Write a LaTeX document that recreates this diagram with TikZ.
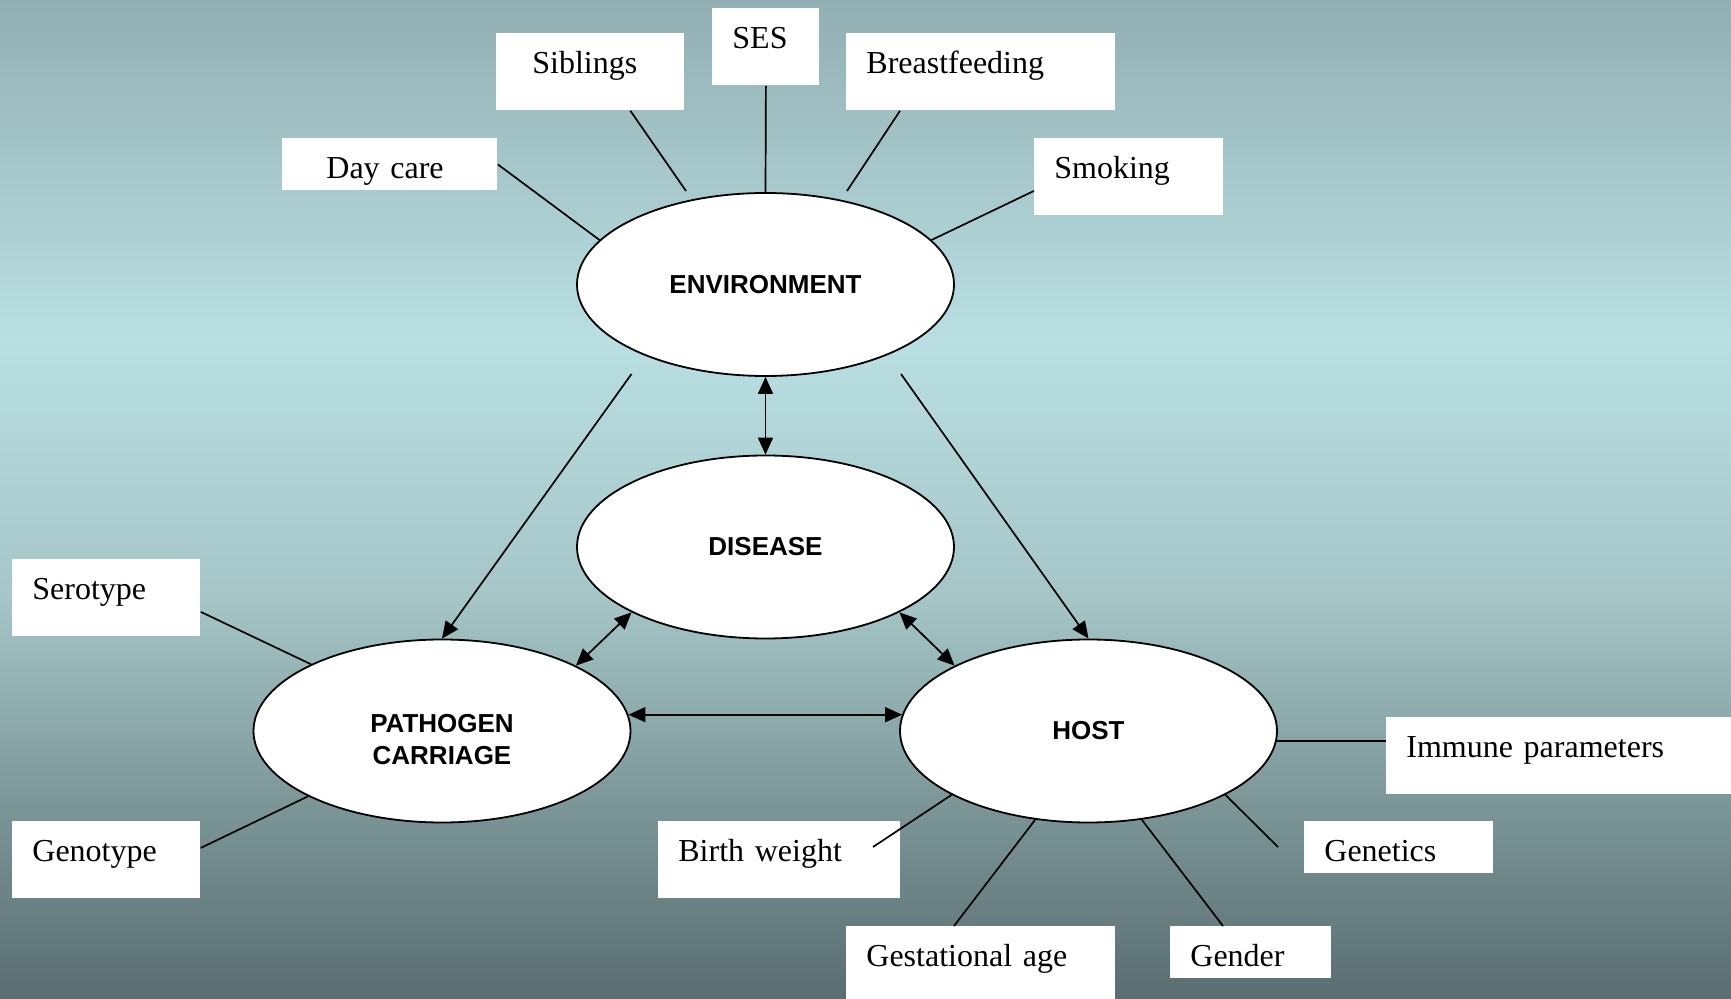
\documentclass[tikz,border=0pt]{standalone}
\usepackage{fontspec}
\setmainfont{Liberation Serif}
\newfontfamily\labelfont{Liberation Sans}
\usepackage{xcolor}
\usetikzlibrary{arrows.meta,shapes.geometric}

\definecolor{bgtop}{HTML}{92AFB3}
\definecolor{bglight}{HTML}{B9DFE2}
\definecolor{bgpale}{HTML}{A5C5C7}
\definecolor{bgmid}{HTML}{7D9799}
\definecolor{bgbot}{HTML}{5A6D70}
\pgfdeclareverticalshading{backdrop}{100bp}{color(0bp)=(bgbot); color(25bp)=(bgbot); color(35bp)=(bgmid); color(45bp)=(bgpale); color(58bp)=(bglight); color(75bp)=(bgtop); color(100bp)=(bgtop)}

\begin{document}
\begin{tikzpicture}[x=0.5pt, y=-0.5pt,
    factor/.style={fill=white, anchor=north west, inner xsep=10pt, inner ysep=0pt, align=left, text height=20pt, text depth=18.5pt, font=\fontsize{16}{19}\selectfont},
    short/.style={text depth=6pt},
    realm/.style={ellipse, draw, fill=white, line width=0.9pt, minimum width=188.5pt, minimum height=91.5pt, inner sep=0pt, align=center, font=\labelfont\bfseries\fontsize{13}{16}\selectfont},
    link/.style={line width=0.85pt},
    effect/.style={line width=0.85pt, -{Triangle[length=8.5pt,width=7.5pt]}},
    mutual/.style={line width=0.85pt, {Triangle[length=8.5pt,width=7.5pt]}-{Triangle[length=8.5pt,width=7.5pt]}}]
        \useasboundingbox (0,0) rectangle (1731,999);
        \shade[shading=backdrop] (0,0) rectangle (1731,999);

        % Draw the four ellipses
        \node[realm] (environment) at (765.5,284.5) {ENVIRONMENT};
        \node[realm] (disease) at (765.5,547) {DISEASE};
        \node[realm, text height=33.5pt, text depth=0pt] (pathogen) at (442,731) {PATHOGEN\\CARRIAGE};
        \node[realm] (host) at (1088.5,731) {HOST};

        % Draw the factor boxes
        \node[factor, text width=33.5pt] (ses) at (712,8) {SES};
        \node[factor, inner xsep=18pt, text width=58pt] (siblings) at (496,33) {Siblings};
        \node[factor, text width=114.5pt] (breast) at (846,33) {Breastfeeding};
        \node[factor, short, inner xsep=22pt, text width=63.5pt] (daycare) at (282,138) {Day care};
        \node[factor, text width=74.5pt] (smoking) at (1034,138) {Smoking};
        \node[factor, text width=74pt] (serotype) at (12,559) {Serotype};
        \node[factor, text width=74pt] (genotype) at (12,821) {Genotype};
        \node[factor, text width=101pt] (birthweight) at (658,821) {Birth weight};
        \node[factor, text width=152.5pt] (immune) at (1386,717) {Immune parameters};
        \node[factor, short, text width=74.5pt] (genetics) at (1304,821) {Genetics};
        \node[factor, text width=114.5pt] (gestation) at (846,926) {Gestational age};
        \node[factor, short, text width=60.5pt] (gender) at (1170,926) {Gender};

        % Free line ends
        \coordinate (siblingsend) at (686,191);
        \coordinate (breastend) at (847,191);
        \coordinate (birthend) at (873,847);
        \coordinate (geneticsend) at (1278,847);
        \coordinate (envleft) at (631.5,374);
        \coordinate (envright) at (901,374);

        % Draw factor lines
        \draw[link] (daycare.east) -- (environment.165);
        \draw[link] ([xshift=20pt]siblings.south) -- (siblingsend);
        \draw[link] (ses.south) -- (environment.north);
        \draw[link] ([xshift=27pt]breast.south west) -- (breastend);
        \draw[link] ([yshift=-7pt]smoking.west) -- (environment.15);
        \draw[link] ([yshift=-7pt]serotype.east) -- (pathogen.153);
        \draw[link] ([yshift=6pt]genotype.east) -- (pathogen.206);
        \draw[link] (host.-3) -- (host.-3 -| immune.west);
        \draw[link] (host.205) -- (birthend);
        \draw[link] (host.-25) -- (geneticsend);
        \draw[link] (host.239) -- ([xshift=54pt]gestation.north west);
        \draw[link] (host.-59) -- ([xshift=26.5pt]gender.north west);

        % Draw arrows
        \draw[effect] (envleft) -- (pathogen.north);
        \draw[effect] (envright) -- (host.north);
        \draw[mutual] (environment.south) -- (disease.north);
        \draw[mutual] (disease.206) -- (pathogen.26);
        \draw[mutual] (disease.-26) -- (host.154);
        \draw[mutual] (pathogen.5) -- (host.175);
      \end{tikzpicture}
\end{document}
